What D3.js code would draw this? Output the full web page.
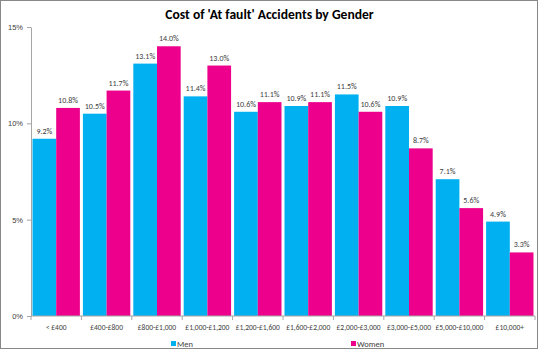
<!DOCTYPE html>
<html>
<head>
<meta charset="utf-8">
<script src="https://cdn.jsdelivr.net/npm/d3@7"></script>
<style>
  body { margin: 0; background: #fff; }
  svg { display: block; font-family: Carlito, Calibri, "Liberation Sans", sans-serif; }
</style>
</head>
<body>
<svg id="chart"></svg>
<script>
const W = 539, H = 352;

// data
const bands = ['< £400', '£400-£800', '£800-£1,000', '£1,000-£1,200', '£1,200-£1,600',
  '£1,600-£2,000', '£2,000-£3,000', '£3,000-£5,000', '£5,000-£10,000', '£10,000+'];
const menValues = [9.2, 10.5, 13.1, 11.4, 10.6, 10.9, 11.5, 10.9, 7.1, 4.9];
const womenValues = [10.8, 11.7, 14.0, 13.0, 11.1, 11.1, 10.6, 8.7, 5.6, 3.3];
const seriesNames = ['Men', 'Women'];
const yTicks = [0, 5, 10, 15];

const colors = ['#00b0f0', '#ec008c'];
const textColor = '#404040';

const margin = {top: 27, right: 4, bottom: 36, left: 31};
const width = W - margin.left - margin.right,
  height = H - margin.top - margin.bottom;

const svg = d3.select('#chart').attr('width', W).attr('height', H);

// outer frame
svg.append('rect')
  .attr('x', 0.5).attr('y', 0.5)
  .attr('width', W - 2).attr('height', H - 4)
  .attr('fill', 'none').attr('stroke', '#888');

svg.append('text')
  .attr('x', W / 2) .attr('y', 19)
  .attr('text-anchor', 'middle')
  .attr('font-size', '13.6px').attr('font-weight', 'bold')
  .attr('fill', '#000')
  .text("Cost of 'At fault' Accidents by Gender");

const plot = svg.append('g').attr('transform', `translate(${margin.left},${margin.top})`);

const x0 = d3.scaleBand().domain(bands).range([0, width]).paddingInner(0.06).paddingOuter(0.03);
const x1 = d3.scaleBand().domain(seriesNames).range([0, x0.bandwidth()]);
const y = d3.scaleLinear().domain([0, 15]).range([height, 0]);

const rows = bands.map((b, i) => ({band: b, values: [menValues[i], womenValues[i]]}));

const groups = plot.selectAll('.group')
  .data(rows).enter()
  .append('g')
  .attr('class', 'group')
  .attr('transform', d => `translate(${x0(d.band)},0)`);

groups.selectAll('rect')
  .data(d => d.values.map((v, j) => ({name: seriesNames[j], v, j})))
  .enter().append('rect')
  .attr('x', d => x1(d.name))
  .attr('y', d => y(d.v))
  .attr('width', x1.bandwidth())
  .attr('height', d => height - y(d.v))
  .attr('fill', d => colors[d.j]);

groups.selectAll('.val')
  .data(d => d.values.map((v, j) => ({name: seriesNames[j], v, j})))
  .enter().append('text')
  .attr('class', 'val')
  .attr('x', d => x1(d.name) + x1.bandwidth() / 2)
  .attr('y', d => y(d.v) - 5)
  .attr('text-anchor', 'middle')
  .attr('font-size', '8px')
  .attr('fill', textColor)
  .text(d => d.v.toFixed(1) + '%');

// y axis
const yAxis = plot.append('g')
  .call(d3.axisLeft(y).tickValues(yTicks).tickFormat(d => d + '%').tickSize(4).tickSizeOuter(0));
yAxis.select('.domain').attr('stroke', '#a6a6a6');
yAxis.selectAll('.tick line').attr('stroke', '#a6a6a6');
yAxis.selectAll('.tick text')
  .attr('x', -8)
  .attr('font-family', null)
  .attr('font-size', '7.5px')
  .attr('fill', textColor);

// x axis, ticks on band boundaries
const xAxis = plot.append('g').attr('transform', `translate(0,${height})`);
xAxis.append('line')
  .attr('x1', 0).attr('x2', width)
  .attr('stroke', '#a6a6a6');
const step = x0.step();
const edges = d3.range(bands.length + 1).map(i => x0(bands[0]) - x0.paddingOuter() * step + i * step);
xAxis.selectAll('.edge')
  .data(edges).enter()
  .append('line')
  .attr('x1', d => d).attr('x2', d => d)
  .attr('y1', 0).attr('y2', 4)
  .attr('stroke', '#a6a6a6');
xAxis.selectAll('.lab')
  .data(bands).enter()
  .append('text')
  .attr('x', d => x0(d) + x0.bandwidth() / 2)
  .attr('y', 14)
  .attr('text-anchor', 'middle')
  .attr('font-size', '7.5px')
  .attr('fill', textColor)
  .text(d => d);

// legend
const legendX = [171, 351];
const legend = svg.selectAll('.legend')
  .data(seriesNames).enter()
  .append('g')
  .attr('transform', (d, i) => `translate(${legendX[i]},341)`);
legend.append('rect')
  .attr('width', 5).attr('height', 5)
  .attr('fill', (d, i) => colors[i]);
legend.append('text')
  .attr('x', 6).attr('y', 5.5)
  .attr('font-size', '8.5px')
  .attr('fill', textColor)
  .text(d => d);
</script>
</body>
</html>
